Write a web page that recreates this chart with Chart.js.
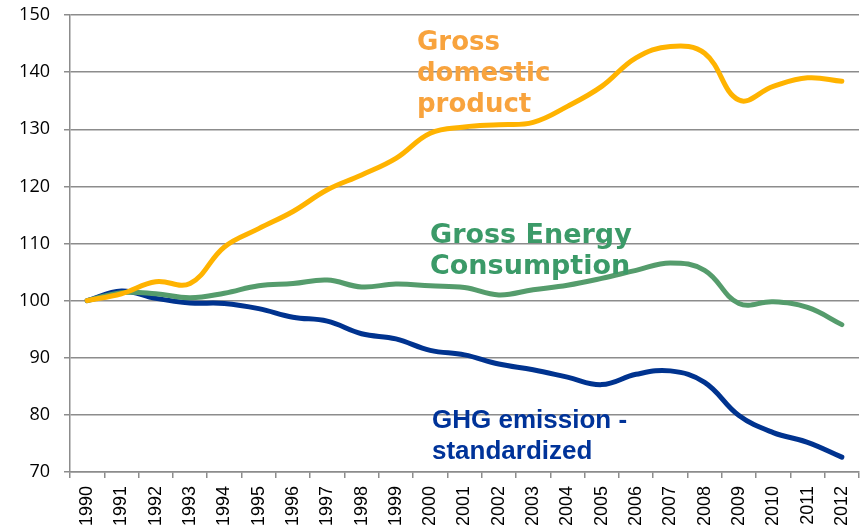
<!DOCTYPE html>
<html>
<head>
<meta charset="utf-8">
<title>GDP, energy consumption and GHG emissions, 1990 = 100</title>
<script src="https://cdn.jsdelivr.net/npm/chart.js"></script>
<style>
  html, body { margin: 0; padding: 0; background: #fff; }
  #wrap { width: 864px; height: 528px; }
</style>
</head>
<body>
<div id="wrap"><canvas id="chart" width="864" height="528"></canvas></div>
<script>
// index 1990 = 100
const years = ['1990', '1991', '1992', '1993', '1994', '1995', '1996', '1997', '1998', '1999', '2000', '2001',
               '2002', '2003', '2004', '2005', '2006', '2007', '2008', '2009', '2010', '2011', '2012'];

const gdp = [100, 101.2, 103.3, 103.0, 109.4, 112.6, 115.6, 119.4, 122.0, 124.9, 129.3, 130.4,
             130.8, 131.2, 134.0, 137.5, 142.5, 144.5, 143.3, 135.1, 137.5, 139.0, 138.4];

const energy = [100, 101.4, 101.2, 100.5, 101.3, 102.6, 103.0, 103.6, 102.4, 102.9, 102.6, 102.3,
                101.0, 101.9, 102.7, 103.9, 105.3, 106.6, 105.3, 99.5, 99.8, 98.8, 95.8];

const ghg = [100, 101.7, 100.4, 99.6, 99.5, 98.6, 97.1, 96.4, 94.2, 93.3, 91.3, 90.5,
             88.9, 87.9, 86.6, 85.3, 87.1, 87.7, 85.7, 79.9, 76.9, 75.2, 72.6];

const yMin = 70, yMax = 150, yStep = 10;

// text labels put inside the plot
const seriesLabels = [
  { lines: ['Gross', 'domestic', 'product'], color: '#F8A33D', font: 'bold 26px "DejaVu Sans"', x: 417, y: 50 },
  { lines: ['Gross Energy', 'Consumption'], color: '#3B9A68', font: 'bold 27px "DejaVu Sans"', x: 430, y: 243 },
  { lines: ['GHG emission -', 'standardized'], color: '#003399', font: 'bold 26px "Liberation Sans"', x: 432, y: 428 }
];

const labelPlugin = {
  id: 'seriesLabels',
  afterDatasetsDraw(chart) {
    const ctx = chart.ctx;
    ctx.save();
    ctx.textAlign = 'left';
    ctx.textBaseline = 'alphabetic';
    seriesLabels.forEach(l => {
      ctx.fillStyle = l.color;
      ctx.font = l.font;
      l.lines.forEach((t, i) => ctx.fillText(t, l.x, l.y + i * 31));
    });
    ctx.restore();
  }
};

new Chart(document.getElementById('chart'), {
  type: 'line',
  data: {
    labels: years,
    datasets: [
      { label: 'Gross domestic product', data: gdp, borderColor: '#FFB300' },
      { label: 'Gross Energy Consumption', data: energy, borderColor: '#559C6C' },
      { label: 'GHG emission - standardized', data: ghg, borderColor: '#00338F' }
    ]
  },
  options: {
    responsive: false,
    animation: false,
    layout: { padding: { left: 0, right: 5, top: 15, bottom: 0 } },
    elements: {
      line: { borderWidth: 5, tension: 0.4, fill: false, borderCapStyle: 'round' },
      point: { radius: 0 }
    },
    plugins: {
      legend: { display: false },
      tooltip: { enabled: false }
    },
    scales: {
      x: {
        offset: true,
        grid: { offset: true, drawOnChartArea: false, drawTicks: true, tickLength: 6, color: '#8c8c8c', lineWidth: 1.5 },
        border: { color: '#8c8c8c', width: 1.5 },
        ticks: {
          autoSkip: false, maxRotation: 90, minRotation: 90, padding: 8,
          color: '#000', font: { family: 'Liberation Sans', size: 18 }
        },
        afterFit(scale) { scale.height = 56; scale.paddingLeft = 0; scale.paddingRight = 0; }
      },
      y: {
        min: yMin, max: yMax,
        grid: { color: '#8c8c8c', lineWidth: 1.5, tickLength: 6 },
        border: { color: '#8c8c8c', width: 1.5 },
        ticks: {
          stepSize: yStep, padding: 14,
          color: '#000', font: { family: 'Open Sans', size: 18 }
        },
        afterFit(scale) { scale.width = 70; scale.paddingTop = 0; scale.paddingBottom = 0; }
      }
    }
  },
  plugins: [labelPlugin]
});
</script>
</body>
</html>
